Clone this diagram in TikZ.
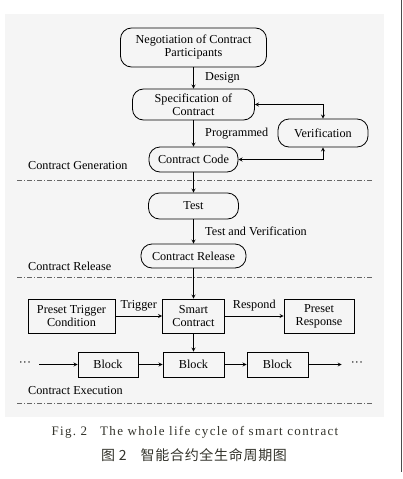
\documentclass[tikz,border=0pt]{standalone}
\usepackage{xcolor}
\usepackage{fontspec}
\setmainfont{Liberation Serif}
\newfontfamily\cjk[LetterSpace=5]{Noto Sans CJK SC}
\newfontfamily\capfont[LetterSpace=10]{Liberation Serif}
\usepackage{tikz}
\usetikzlibrary{shapes.geometric, arrows}
\definecolor{panelgray}{HTML}{F5F5F5}
\definecolor{captext}{HTML}{33332B}
\tikzstyle{startstop} = [rectangle, rounded corners=11pt, text centered, align=center,
                         draw=black, inner sep=1pt, line width=0.8pt]
\tikzstyle{process} = [rectangle, text centered, align=center, draw=black,
                       inner sep=1pt, line width=0.8pt]
\tikzstyle{arrow} = [line width=0.8pt,->,>=stealth]
\tikzstyle{stage} = [dash pattern=on 5pt off 2pt on 1pt off 2pt, line width=0.7pt, draw=black!60]
\tikzstyle{phase} = [anchor=west, inner sep=0pt]

\begin{document}
\begin{tikzpicture}[x=1pt, y=-1pt, every node/.style={font=\fontsize{12.2}{13}\selectfont}]

\useasboundingbox (0,0) rectangle (403,479);
\fill[panelgray] (5,14) rectangle (384,417);
\draw[black!70, line width=0.8pt] (401,0) -- (401,472);

% contract generation
\node (negotiation) [startstop, minimum width=146pt, minimum height=39pt] at (193.5,47.5) {Negotiation of Contract\\Participants};
\node (spec) [startstop, minimum width=122pt, minimum height=31pt] at (193.5,104.5) {Specification of\\Contract};
\node (verif) [startstop, minimum width=90pt, minimum height=28pt] at (323,133) {Verification};
\node (code) [startstop, minimum width=89pt, minimum height=25pt] at (193.5,159.5) {Contract Code};

% contract release
\node (test) [startstop, minimum width=90pt, minimum height=26pt] at (193.5,206) {Test};
\node (release) [startstop, minimum width=105pt, minimum height=24pt] at (193.5,256) {Contract Release};

% contract execution
\node (trigger) [process, minimum width=87pt, minimum height=34pt] at (71.5,316) {Preset Trigger\\Condition};
\node (smart) [process, minimum width=62pt, minimum height=34pt] at (193.5,316) {Smart\\Contract};
\node (response) [process, minimum width=70pt, minimum height=34pt] at (319,316) {Preset\\Response};
\node (block1) [process, minimum width=60pt, minimum height=25pt] at (108,364.5) {Block};
\node (block2) [process, minimum width=61pt, minimum height=25pt] at (193.5,364.5) {Block};
\node (block3) [process, minimum width=61pt, minimum height=25pt] at (277.5,364.5) {Block};
\node (dotsL) [inner xsep=8pt] at (25,364.5) {\textperiodcentered\textperiodcentered\textperiodcentered};
\node (dotsR) [inner xsep=9pt] at (357,364.5) {\textperiodcentered\textperiodcentered\textperiodcentered};

\draw [arrow] (negotiation) -- node[right=8pt] {Design} (spec);
\draw [arrow] (spec) -- node[right=8pt] {Programmed} (code);
\draw [arrow, <->] (spec.east) -| (verif.north);
\draw [arrow, <->] (code.east) -| (verif.south);
\draw [arrow] (code) -- (test);
\draw [arrow] (test) -- node[right=8pt] {Test and Verification} (release);
\draw [arrow] (release) -- (smart);
\draw [arrow] (trigger) -- node[above=1pt] {Trigger} (smart);
\draw [arrow] (smart) -- node[above=1pt] {Respond} (response);
\draw [arrow] (smart) -- (block2);
\draw [arrow] (dotsL) -- (block1);
\draw [arrow] (block1) -- (block2);
\draw [arrow] (block2) -- (block3);
\draw [arrow] (block3) -- (dotsR);

% stage borders
\node (gen) [phase] at (28,165.7) {Contract Generation};
\draw [stage] (17,180) -- (372,180);
\node (rel) [phase] at (28,266) {Contract Release};
\draw [stage] (17,277.7) -- (372,277.7);
\node (exe) [phase] at (28,391) {Contract Execution};
\draw [stage] (17,403) -- (372,403);

% caption
\node (capen) [text=captext, font=\fontsize{13}{15}\selectfont] at (195,432) {\capfont Fig.\ 2\hspace{1em}The whole life cycle of smart contract};
\node (capcn) [text=captext, font=\fontsize{14}{16}\selectfont] at (194,455) {\cjk 图 2\hspace{1em}智能合约全生命周期图};

\end{tikzpicture}
\end{document}
